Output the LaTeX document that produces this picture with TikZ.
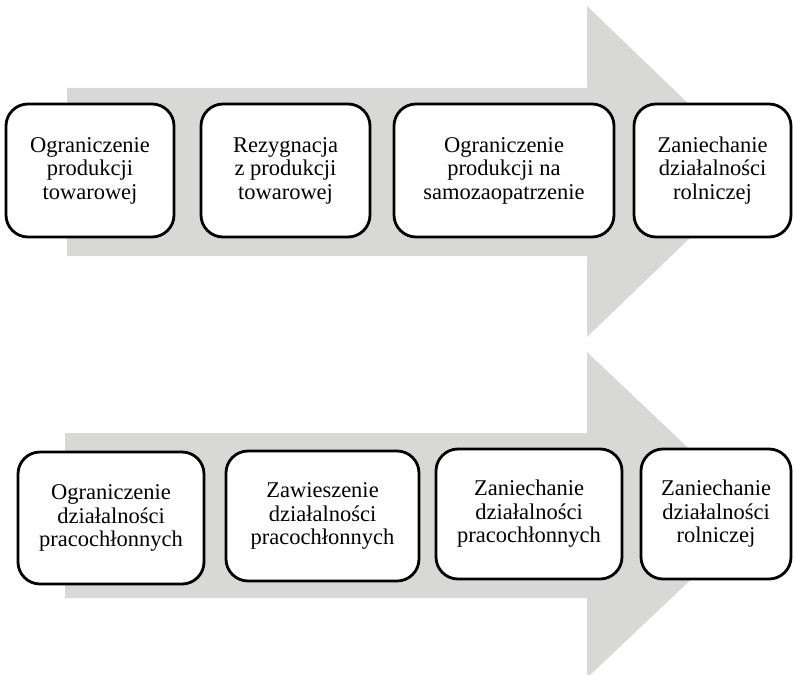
\documentclass[tikz,border=0pt]{standalone}
\usepackage{fontspec}
\setmainfont{Liberation Serif}
\definecolor{arrowgray}{RGB}{216,216,214}
\begin{document}
\begin{tikzpicture}[x=1pt,y=-1pt,
  stage/.style={draw=black, line width=2.8pt, rounded corners=22pt, fill=white,
    inner sep=0pt, align=center, font=\fontsize{22.5}{23.5}\selectfont},
  bigarrow/.style={fill=arrowgray}]
\useasboundingbox (0,0) rectangle (794,674);
% top arrow
\fill[bigarrow] (67,88) -- (587,88) -- (587,6) -- (759,171.5) -- (587,337) -- (587,256) -- (67,256) -- cycle;
% bottom arrow
\fill[bigarrow] (65,433) -- (587,433) -- (587,352) -- (759,515) -- (587,678) -- (587,598) -- (65,598) -- cycle;
% top row
\node[stage, minimum width=168, minimum height=133] (a1) at (90,170.5) {Ograniczenie\\produkcji\\towarowej};
\node[stage, minimum width=169, minimum height=133] (a2) at (285.5,170.5) {Rezygnacja\\z produkcji\\towarowej};
\node[stage, minimum width=220, minimum height=133] (a3) at (504,170.5) {Ograniczenie\\produkcji na\\samozaopatrzenie};
\node[stage, minimum width=157, minimum height=133] (a4) at (712.5,170.5) {Zaniechanie\\działalności\\rolniczej};
% bottom row
\node[stage, minimum width=186, minimum height=132] (b1) at (111,518) {Ograniczenie\\działalności\\pracochłonnych};
\node[stage, minimum width=193, minimum height=130] (b2) at (322.5,516) {Zawieszenie\\działalności\\pracochłonnych};
\node[stage, minimum width=186, minimum height=130] (b3) at (529,514) {Zaniechanie\\działalności\\pracochłonnych};
\node[stage, minimum width=150, minimum height=130] (b4) at (716,514) {Zaniechanie\\działalności\\rolniczej};
\end{tikzpicture}
\end{document}
